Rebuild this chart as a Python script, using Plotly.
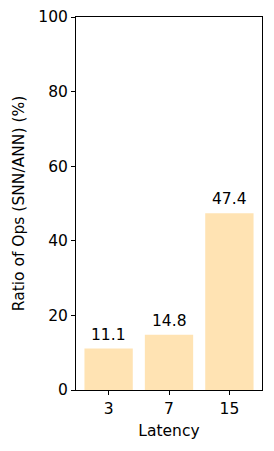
import plotly.graph_objects as go

latency = ["3", "7", "15"]
ratio = [11.1, 14.8, 47.4]
yticks = [0, 20, 40, 60, 80, 100]

FONT = dict(family="DejaVu Sans", size=15.5, color="black")

fig = go.Figure()
fig.add_trace(go.Bar(
    x=latency, y=ratio, width=0.8,
    marker=dict(color="#FFE3B3", line=dict(width=0)),
))
for i, v in enumerate(ratio):
    fig.add_annotation(x=i, y=v, xref="x", yref="y", text=f"{v:.1f}", showarrow=False,
                       yanchor="bottom", yshift=3, font=FONT)

axis_common = dict(showline=True, linecolor="black", linewidth=1, mirror=True,
                   ticks="outside", ticklen=4, tickwidth=1, tickcolor="black",
                   showgrid=False, zeroline=False, tickfont=FONT, automargin=False)
fig.update_xaxes(type="category", range=[-0.54, 2.54],
                 title=dict(text="Latency", font=FONT, standoff=8), **axis_common)
fig.update_yaxes(range=[0, 100], tickvals=yticks,
                 title=dict(text="Ratio of Ops (SNN/ANN) (%)", font=FONT, standoff=9),
                 **axis_common)
fig.update_layout(width=274, height=451, margin=dict(l=76, r=12, t=17, b=61),
                  plot_bgcolor="white", paper_bgcolor="white", showlegend=False,
                  font=FONT)
fig.write_html("out.html", config={"displayModeBar": False},
               post_script="document.body.style.margin='0';document.body.style.overflow='hidden';")
